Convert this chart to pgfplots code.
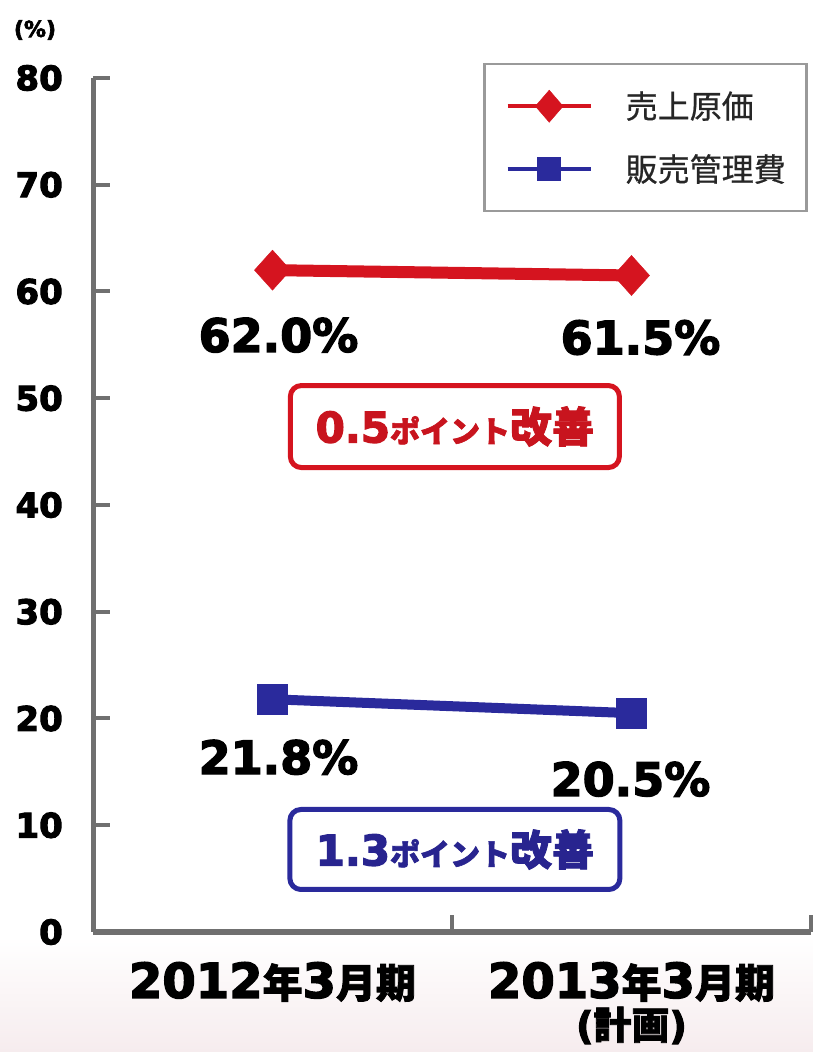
\documentclass[border=0pt]{standalone}
\usepackage{fontspec}
\setmainfont{DejaVu Sans}[BoldFeatures={FakeBold=3}]
\newfontfamily\cjk{Noto Sans CJK JP}[UprightFeatures={FakeBold=0.6}, BoldFeatures={FakeBold=2}]
\usepackage{pgfplots}
\pgfplotsset{compat=1.18}

\definecolor{cred}{HTML}{D5141F}
\definecolor{cblue}{HTML}{2A2A9C}
\definecolor{credtext}{HTML}{C8141E}
\definecolor{cbluetext}{HTML}{28248F}
\definecolor{axgray}{HTML}{707070}
\definecolor{boxgray}{HTML}{9A9A9A}

\newcommand\fs[1]{\fontsize{#1bp}{#1bp}\selectfont}
\newcommand\jp[2]{{\cjk\bfseries\fs{#1}#2}}
\newcommand\lat[2]{{\bfseries\fs{#1}#2}}

% legend sample: a short line with the marker in its middle
\pgfplotsset{
  longline legend/.style={
    legend image code/.code={\draw[mark repeat=2, mark phase=2, ##1]
      plot coordinates {(0bp,0bp) (41.5bp,0bp) (83bp,0bp)};}}
}

\begin{document}
\begin{tikzpicture}
\useasboundingbox (0,0) rectangle (813bp,1052bp);
% faint band under the chart
\shade[top color=white, bottom color={rgb,255:red,246;green,236;blue,238}] (0,0) rectangle (813bp,116bp);
% unit of the vertical axis
\node[font=\bfseries\fs{22}] at (35bp,1022bp) {(\%)};

\begin{axis}[
  at={(93bp,120bp)}, anchor=south west,
  scale only axis, width=718bp, height=854bp,
  xmin=-0.5, xmax=1.5, ymin=0, ymax=80,
  clip=false,
  axis lines*=left,
  axis line style={axgray, line width=5bp},
  tick align=inside,
  tick style={axgray, line width=4bp},
  major tick length=17bp,
  xtick={0.5,1.5}, xticklabels={},
  extra x ticks={0,1},
  extra x tick labels={{\lat{48}{2012}\jp{40}{年}\lat{48}{3}\jp{40}{月期}},
                       {\lat{48}{2013}\jp{40}{年}\lat{48}{3}\jp{40}{月期}\\[4bp]\lat{38}{(}\jp{38}{計画}\lat{38}{)}}},
  extra x tick style={major tick length=0pt,
     xticklabel style={anchor=north, inner sep=0pt, yshift=-30bp, align=center}},
  ytick={0,10,...,80},
  /pgf/number format/assume math mode=true,
  yticklabel style={font=\bfseries\fs{34}, anchor=east, inner sep=0pt, xshift=-30bp},
  legend style={at={(0.9958,1.0176)}, anchor=north east,
     draw=boxgray, line width=2.5bp, fill=white,
     inner xsep=21bp, inner ysep=26bp, row sep=31bp, column sep=33bp,
     font=\cjk\fs{32},
     nodes={inner sep=0pt, text height=28bp, text depth=4bp, text=black!85}},
  legend cell align=left,
]

% cost of sales ratio
\addplot[cred, line width=12bp, mark=diamond*, mark size=20bp,
  mark options={xscale=1.2, line width=0.5bp}, forget plot]
  coordinates {(0,62.0) (1,61.5)};
% SG&A ratio
\addplot[cblue, line width=10bp, mark=square*, mark size=15bp,
  mark options={line width=0.5bp}, forget plot]
  coordinates {(0,21.8) (1,20.5)};

\addlegendimage{cred, line width=4bp, mark=diamond*, mark size=16bp,
  mark options={xscale=1.15, line width=0.5bp}, longline legend}
\addlegendentry{売上原価}
\addlegendimage{cblue, line width=4bp, mark=square*, mark size=11.5bp,
  mark options={line width=0.5bp}, longline legend}
\addlegendentry{販売管理費}

% value labels
\node[font=\bfseries\fs{46}, xshift=6bp, yshift=-65bp] at (axis cs:0,62.0) {62.0\%};
\node[font=\bfseries\fs{46}, xshift=9bp, yshift=-62bp] at (axis cs:1,61.5) {61.5\%};
\node[font=\bfseries\fs{46}, xshift=6bp, yshift=-58bp] at (axis cs:0,21.8) {21.8\%};
\node[font=\bfseries\fs{46}, xshift=-1bp, yshift=-66bp] at (axis cs:1,20.5) {20.5\%};

% improvement callouts
\node[draw=cred, line width=5bp, rounded corners=11bp, fill=white,
  minimum width=329bp, minimum height=82bp, inner sep=0pt, text=credtext]
  at (axis cs:0.508,47.35)
  {\lat{42}{0.5}\jp{30}{ポイント}\jp{42}{改善}};
\node[draw=cblue, line width=5bp, rounded corners=11bp, fill=white,
  minimum width=330bp, minimum height=80bp, inner sep=0pt, text=cbluetext]
  at (axis cs:0.508,7.73)
  {\lat{42}{1.3}\jp{30}{ポイント}\jp{42}{改善}};
\end{axis}
\end{tikzpicture}
\end{document}
